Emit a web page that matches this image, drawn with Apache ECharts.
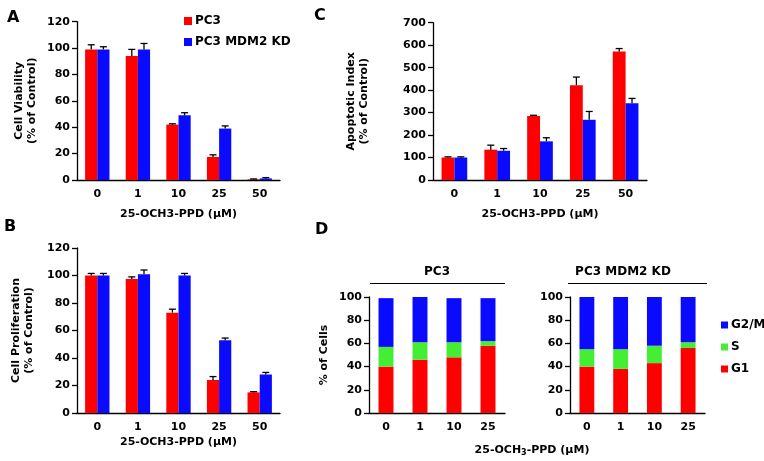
<!DOCTYPE html>
<html><head><meta charset="utf-8">
<script src="https://cdn.jsdelivr.net/npm/echarts@6/dist/echarts.min.js"></script>
<style>html,body{margin:0;padding:0;background:#fff}#c{width:764px;height:461px}</style>
</head><body><div id="c"></div>
<script>
// ---- data ----
var doseCats = ['0', '1', '10', '25', '50'];
var cycleCats = ['0', '1', '10', '25'];

var viabPC3 = [99, 94, 42, 17.5, 0.5];
var viabPC3Err = [3.5, 5, 0.6, 1.6, 0.3];
var viabKD = [99, 99, 49, 39, 1.2];
var viabKDErr = [2, 4.5, 2, 2, 0.6];

var prolPC3 = [100, 97.5, 73, 24, 15];
var prolPC3Err = [1.5, 1.5, 2.5, 2.5, 0.5];
var prolKD = [100, 101, 100, 53, 28];
var prolKDErr = [1.5, 3, 1.5, 1.5, 1.5];

var apopPC3 = [100, 135, 285, 422, 572];
var apopPC3Err = [3, 20, 3, 36, 13];
var apopKD = [100, 130, 172, 268, 342];
var apopKDErr = [3, 10, 16, 37, 21];

var pc3G1 = [40, 46, 48, 58];
var pc3S = [17, 15, 13, 4];
var pc3G2M = [42, 39, 38, 37];
var kdG1 = [40, 38, 43, 56];
var kdS = [15, 17, 15, 5];
var kdG2M = [45, 45, 42, 39];

// ---- style ----
var RED = '#ff0000', BLUE = '#0a0aff', GREEN = '#44ee33';
var FONT = 'DejaVu Sans';
var lab = {fontFamily: FONT, fontWeight: 'bold', fontSize: 11, color: '#000'};

function errSeries(name, gi, vals, errs, sign) {
  return {
    type: 'custom', name: name + '_err', xAxisIndex: gi, yAxisIndex: gi, z: 5,
    data: vals.map(function (v, i) { return [i, v, errs[i]]; }),
    renderItem: function (params, api) {
      var i = api.value(0), v = api.value(1), e = api.value(2);
      var base = api.coord([i, v]);
      var top = api.coord([i, v + e]);
      var cw = api.size([1, 0])[0];
      var bw = cw * 0.6 / 2;
      var x = base[0] + sign * bw / 2;
      var cap = 3.5;
      var st = {stroke: '#000', lineWidth: 1.3};
      return {type: 'group', children: [
        {type: 'line', shape: {x1: x, y1: base[1], x2: x, y2: top[1]}, style: st},
        {type: 'line', shape: {x1: x - cap, y1: top[1], x2: x + cap, y2: top[1]}, style: st}
      ]};
    }
  };
}
function bar(name, gi, data, color, gap) {
  return {type: 'bar', name: name, xAxisIndex: gi, yAxisIndex: gi, data: data,
    barGap: '0%', barCategoryGap: gap, itemStyle: {color: color}, z: 3};
}
function stack(name, gi, data, color, st) {
  return {type: 'bar', name: name, xAxisIndex: gi, yAxisIndex: gi, data: data, stack: st,
    barCategoryGap: '56%', itemStyle: {color: color}};
}
function xAx(gi, cats, name, gap) {
  return {type: 'category', gridIndex: gi, data: cats,
    axisLine: {lineStyle: {color: '#000', width: 1.3}},
    axisTick: {length: 5, lineStyle: {color: '#000', width: 1.3}},
    axisLabel: Object.assign({margin: 9}, lab),
    name: name, nameLocation: 'middle', nameGap: gap,
    nameTextStyle: {fontFamily: FONT, fontWeight: 'bold', fontSize: 11, color: '#000'}};
}
function yAx(gi, max, interval, name, gap) {
  return {type: 'value', gridIndex: gi, min: 0, max: max, interval: interval,
    splitLine: {show: false},
    axisLine: {show: true, lineStyle: {color: '#000', width: 1.3}},
    axisTick: {show: true, length: 5, lineStyle: {color: '#000', width: 1.3}},
    axisLabel: Object.assign({margin: 7}, lab),
    name: name, nameLocation: 'middle', nameGap: gap, nameRotate: 90,
    nameTextStyle: {fontFamily: FONT, fontWeight: 'bold', fontSize: 11, color: '#000', lineHeight: 13}};
}
var xName = '25-OCH3-PPD (µM)';

var chart = echarts.init(document.getElementById('c'));
chart.setOption({
  animation: false,
  backgroundColor: '#fff',
  grid: [
    {left: 77, top: 21.7, width: 203, height: 158.3},
    {left: 77, top: 248, width: 203, height: 165},
    {left: 433, top: 22.7, width: 214, height: 157.3},
    {left: 369, top: 297, width: 136, height: 116},
    {left: 570, top: 297, width: 135, height: 116}
  ],
  xAxis: [
    xAx(0, doseCats, xName, 29),
    xAx(1, doseCats, xName, 24),
    xAx(2, doseCats, xName, 29),
    xAx(3, cycleCats, '', 20),
    xAx(4, cycleCats, '', 20)
  ],
  yAxis: [
    yAx(0, 120, 20, 'Cell Viability\n(% of Control)', 38),
    yAx(1, 120, 20, 'Cell Proliferation\n(% of Control)', 41),
    yAx(2, 700, 100, 'Apoptotic Index\n(% of Control)', 62),
    yAx(3, 100, 20, '% of Cells', 38),
    yAx(4, 100, 20, '', 30)
  ],
  legend: [
    {orient: 'vertical', left: 179, top: 10, itemWidth: 8, itemHeight: 8, itemGap: 9, icon: 'rect',
     data: ['PC3', 'PC3 MDM2 KD'],
     textStyle: {fontFamily: FONT, fontWeight: 'bold', fontSize: 12, color: '#000', padding: [0, 0, 0, -2]}},
    {orient: 'vertical', left: 716, top: 314, itemWidth: 7, itemHeight: 7, itemGap: 10, icon: 'rect',
     data: ['G2/M', 'S', 'G1'],
     textStyle: {fontFamily: FONT, fontWeight: 'bold', fontSize: 12, color: '#000', padding: [0, 0, 0, -2]}}
  ],
  series: [
    bar('PC3', 0, viabPC3, RED, '40%'),
    bar('PC3 MDM2 KD', 0, viabKD, BLUE, '40%'),
    errSeries('PC3', 0, viabPC3, viabPC3Err, -1),
    errSeries('PC3 MDM2 KD', 0, viabKD, viabKDErr, 1),
    bar('PC3', 1, prolPC3, RED, '40%'),
    bar('PC3 MDM2 KD', 1, prolKD, BLUE, '40%'),
    errSeries('PC3', 1, prolPC3, prolPC3Err, -1),
    errSeries('PC3 MDM2 KD', 1, prolKD, prolKDErr, 1),
    bar('PC3', 2, apopPC3, RED, '40%'),
    bar('PC3 MDM2 KD', 2, apopKD, BLUE, '40%'),
    errSeries('PC3', 2, apopPC3, apopPC3Err, -1),
    errSeries('PC3 MDM2 KD', 2, apopKD, apopKDErr, 1),
    stack('G1', 3, pc3G1, RED, 'a'),
    stack('S', 3, pc3S, GREEN, 'a'),
    stack('G2/M', 3, pc3G2M, BLUE, 'a'),
    stack('G1', 4, kdG1, RED, 'b'),
    stack('S', 4, kdS, GREEN, 'b'),
    stack('G2/M', 4, kdG2M, BLUE, 'b')
  ],
  graphic: [
    {type: 'text', left: 7, top: 10, style: {text: 'A', font: 'bold 16px "DejaVu Sans"', fill: '#000'}},
    {type: 'text', left: 314, top: 8, style: {text: 'C', font: 'bold 16px "DejaVu Sans"', fill: '#000'}},
    {type: 'text', left: 4, top: 219, style: {text: 'B', font: 'bold 16px "DejaVu Sans"', fill: '#000'}},
    {type: 'text', left: 315, top: 222, style: {text: 'D', font: 'bold 16px "DejaVu Sans"', fill: '#000'}},
    {type: 'text', x: 437, y: 272, style: {text: 'PC3', font: 'bold 12px "DejaVu Sans"', fill: '#000', align: 'center', verticalAlign: 'middle'}},
    {type: 'text', x: 623, y: 272, style: {text: 'PC3 MDM2 KD', font: 'bold 12px "DejaVu Sans"', fill: '#000', align: 'center', verticalAlign: 'middle'}},
    {type: 'line', shape: {x1: 370, y1: 283.5, x2: 505, y2: 283.5}, style: {stroke: '#000', lineWidth: 1.2}},
    {type: 'line', shape: {x1: 568, y1: 283.5, x2: 707, y2: 283.5}, style: {stroke: '#000', lineWidth: 1.2}},
    {type: 'text', x: 532, y: 450, style: {
      text: '25-OCH{s|3}-PPD (µM)', align: 'center', verticalAlign: 'middle',
      font: 'bold 11px "DejaVu Sans"', fill: '#000',
      rich: {s: {fontFamily: FONT, fontWeight: 'bold', fontSize: 8, fill: '#000', verticalAlign: 'bottom', padding: [6, 0, 0, 0]}}}}
  ]
});
</script></body></html>
